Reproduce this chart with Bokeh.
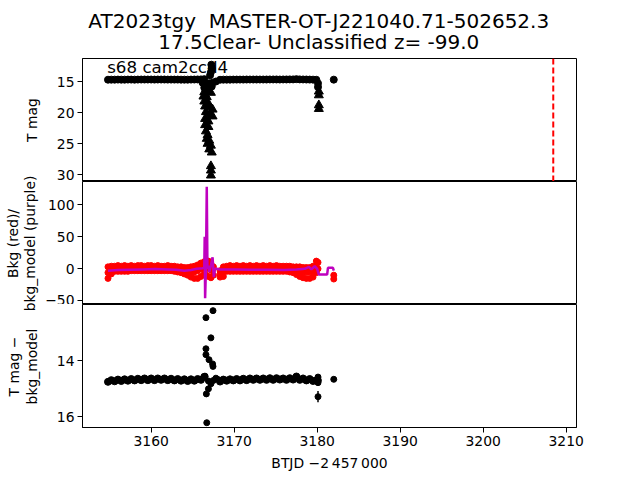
import math
from bokeh.plotting import figure
from bokeh.models import Range1d, FixedTicker, Span, CustomJSTickFormatter
from bokeh.layouts import column, row
from bokeh.embed import file_html
from bokeh.resources import INLINE
from bokeh.core.properties import value

FONT = "DejaVu Sans"

# ---------------- data ----------------
title_lines = ["AT2023tgy\u00a0\u00a0MASTER-OT-J221040.71-502652.3",
               "17.5Clear- Unclassified z= -99.0"]
sector_label = "s68 cam2ccd4"
label_x = 3154.7
label_y = 12.6
event_btjd = 3208.44

x_ticks = [3160, 3170, 3180, 3190, 3200, 3210]
mag_ticks = [15, 20, 25, 30]
bkg_ticks = [-50, 0, 50, 100]
diff_ticks = [14, 16]

# y-axis titles (one entry per text line)
ylabel_text = ["T mag", "Bkg (red)/", "bkg_model (purple)", "T mag \u2212", "bkg_model"]
xlabel_text = "BTJD \u22122\u2009457\u2009000"

btjd = [3154.8, 3155.2, 3155.6, 3156.0, 3156.4, 3156.8, 3157.2, 3157.6, 3158.0, 3158.4,
        3158.8, 3159.2, 3159.6, 3160.0, 3160.4, 3160.8, 3161.2, 3161.6, 3162.0, 3162.4,
        3162.8, 3163.2, 3163.6, 3164.0, 3164.4, 3164.8, 3165.2, 3165.6, 3166.0, 3166.4,
        3168.3, 3168.7, 3169.1, 3169.5, 3169.9, 3170.3, 3170.7, 3171.1, 3171.5, 3171.9,
        3172.3, 3172.7, 3173.1, 3173.5, 3173.9, 3174.3, 3174.7, 3175.1, 3175.5, 3175.9,
        3176.3, 3176.7, 3177.1, 3177.5, 3177.9, 3178.3, 3178.7, 3179.1, 3179.5, 3179.9]

tmag = [14.71, 14.70, 14.70, 14.69, 14.70, 14.70, 14.69, 14.69, 14.70, 14.69,
        14.68, 14.68, 14.68, 14.68, 14.69, 14.68, 14.68, 14.68, 14.69, 14.69,
        14.69, 14.69, 14.70, 14.70, 14.70, 14.69, 14.68, 14.67, 14.66, 14.62,
        14.72, 14.70, 14.70, 14.70, 14.69, 14.69, 14.69, 14.69, 14.68, 14.68,
        14.68, 14.68, 14.68, 14.68, 14.68, 14.67, 14.67, 14.67, 14.68, 14.67,
        14.67, 14.66, 14.66, 14.62, 14.66, 14.67, 14.68, 14.69, 14.70, 14.72]

# extra detections (circles) around the flare and end of sector
tmag_extra_t = [3167.25, 3167.3, 3167.2, 3167.1, 3166.2, 3166.6, 3167.0, 3167.4, 3167.8,
                3166.4, 3166.9, 3167.3, 3180.1, 3180.1, 3182.0]
tmag_extra = [12.3, 12.9, 13.5, 14.0, 15.2, 15.5, 15.3, 15.2, 15.0,
              16.0, 15.9, 15.8, 15.3, 15.9, 14.7]

# upper limits (triangles)
lim_t = [3166.4, 3166.8, 3167.2, 3166.3, 3166.7, 3166.4, 3166.8, 3166.5, 3167.0, 3167.4,
         3166.6, 3167.1, 3167.4, 3166.5, 3166.9, 3166.5, 3166.9, 3166.6, 3166.8, 3166.7,
         3167.0, 3166.8, 3167.2, 3167.0, 3167.3, 3167.2, 3167.2, 3167.2,
         3180.2, 3180.2, 3180.2, 3180.2]
lim_mag = [16.7, 16.6, 16.8, 17.4, 17.5, 18.2, 18.3, 19.0, 19.1, 19.5,
           19.9, 20.2, 20.6, 21.0, 21.4, 22.0, 22.3, 23.0, 23.6, 24.2,
           24.5, 25.0, 25.3, 25.9, 26.4, 28.6, 29.3, 30.1,
           16.6, 17.2, 18.8, 19.4]

bkg_hi = [3, 4, 4, 5, 4, 5, 4, 5, 4, 5, 5, 4, 5, 5, 4, 5, 4, 4, 5, 4,
          4, 3, 3, 2, 2, 3, 4, 6, 9, 11,
          -3, 3, 4, 5, 4, 5, 4, 5, 4, 5, 4, 5, 4, 5, 4, 5, 4, 5, 4, 4,
          4, 4, 3, 3, 3, 2, 2, 2, 4, 12]
bkg_mid = [-6, -2, 0, 0, 0, 0, 0, 0, 1, 1, 1, 1, 1, 1, 1, 0, 0, 0, 0, 0,
           0, -1, -1, -3, -4, -5, -5, -3, 0, 2,
           -8, -4, 0, 0, 0, 0, 0, 0, 0, 0, 0, 0, 0, 0, 0, 0, 0, 0, 0, 0,
           0, -1, -2, -3, -4, -5, -5, -5, -4, 3]
bkg_lo = [-15, -8, -4, -4, -4, -4, -4, -3, -3, -3, -3, -3, -3, -3, -3, -3, -3, -3, -3, -3,
          -4, -5, -6, -8, -10, -13, -15, -15, -12, -8,
          -13, -12, -4, -4, -4, -4, -4, -4, -4, -4, -4, -4, -4, -4, -4, -4, -4, -4, -4, -4,
          -4, -5, -6, -9, -12, -14, -15, -15, -13, -6]
bkg_extra_t = [3166.6, 3166.6, 3166.6, 3166.9, 3166.9, 3166.9, 3167.2, 3167.2, 3167.2,
               3167.5, 3167.5, 3180.1, 3180.1, 3182.0, 3182.0]
bkg_extra = [10, 0, -10, 12, 2, -12, 8, -2, -14, 3, -10, 10, 0, -10, -16]

model_t = [3154.8, 3156.0, 3157.5, 3159.0, 3160.5, 3162.0, 3163.0, 3164.0, 3164.8, 3165.5,
           3166.2, 3166.4, 3166.45, 3166.5, 3166.6, 3166.7, 3166.78, 3166.9, 3167.0, 3167.2,
           3167.4, 3167.55, 3167.7, 3167.9, 3168.3, 3170.0, 3172.0, 3174.0, 3176.0, 3177.5,
           3178.5, 3179.0, 3179.3, 3179.7, 3180.0, 3180.2, 3181.2, 3181.3, 3181.9, 3182.0]
model = [-3, -2, -1.5, -1, -0.5, -1, -1.5, -3, -2, 0,
         1, 2, 50, -46, 0, 128, 0, 5, -5, 5,
         18, -13, 0, 0, -1, -1, -1.5, -1.5, -2, -1,
         0, 3, -1, 4, 0, -9, -9, 1.5, 1.5, -3]

diff = [14.75, 14.69, 14.73, 14.67, 14.72, 14.66, 14.71, 14.65, 14.70, 14.64,
        14.69, 14.63, 14.69, 14.63, 14.69, 14.63, 14.68, 14.63, 14.69, 14.64,
        14.70, 14.65, 14.71, 14.66, 14.72, 14.66, 14.71, 14.65, 14.68, 14.57,
        14.74, 14.67, 14.71, 14.66, 14.70, 14.65, 14.70, 14.64, 14.69, 14.63,
        14.68, 14.63, 14.68, 14.63, 14.68, 14.62, 14.68, 14.62, 14.67, 14.63,
        14.68, 14.62, 14.67, 14.56, 14.68, 14.63, 14.70, 14.65, 14.72, 14.70]
diff_extra_t = [3166.6, 3167.45, 3167.2, 3166.6, 3166.6, 3166.97, 3167.4, 3167.45, 3166.9,
                3166.65, 3166.7, 3166.5, 3166.9, 3167.2, 3167.5, 3167.8, 3168.0,
                3180.1, 3180.1, 3180.15]
diff_extra = [12.46, 12.21, 13.18, 13.57, 13.78, 13.96, 14.11, 14.2, 15.0,
              15.18, 16.21, 14.55, 14.72, 14.82, 14.7, 14.62, 14.66,
              14.58, 14.78, 14.7]
err_t = [3180.1, 3182.0]
err_mag = [15.28, 14.66]
err_size = [0.2, 0.08]

# ---------------- layout geometry ----------------
LABEL_W = 42
MAIN_W = 640 - LABEL_W
FRAME_LEFT = 80 - LABEL_W
FRAME_RIGHT = 64
TITLE_H = 58

x_range = Range1d(3151.73, 3211.24)
minus_fmt = CustomJSTickFormatter(code="return tick < 0 ? '\u2212' + Math.abs(tick) : String(tick);")


def make_fig(height, bottom, y_range, show_x):
    p = figure(width=MAIN_W, height=height, x_range=x_range, y_range=y_range,
               output_backend="svg", toolbar_location=None,
               min_border_left=FRAME_LEFT, min_border_right=FRAME_RIGHT,
               min_border_top=0, min_border_bottom=bottom,
               x_axis_location="below" if show_x else None)
    p.grid.visible = False
    p.outline_line_color = "black"
    p.outline_line_alpha = 1.0
    p.outline_line_width = 1
    p.background_fill_color = "white"
    p.border_fill_color = "white"
    for ax in p.axis:
        ax.major_tick_out = 5
        ax.major_tick_in = 0
        ax.minor_tick_out = 0
        ax.minor_tick_in = 0
        ax.axis_line_color = "black"
        ax.major_tick_line_color = "black"
        ax.major_label_text_font = FONT
        ax.major_label_text_font_size = "13.9px"
        ax.major_label_text_color = "black"
        ax.major_label_standoff = 3
        ax.axis_label_text_font = FONT
        ax.axis_label_text_font_size = "13.9px"
        ax.axis_label_text_font_style = "normal"
        ax.axis_label_text_color = "black"
        ax.axis_label_standoff = 6
    return p


def strip(width, height, x0, x1):
    s = figure(width=width, height=height, x_range=Range1d(x0, x1), y_range=Range1d(height, 0),
               output_backend="svg", toolbar_location=None, min_border=0,
               x_axis_location=None, y_axis_location=None)
    s.grid.visible = False
    s.outline_line_color = None
    s.border_fill_color = "white"
    s.background_fill_color = "white"
    return s


# title strip above the panels (two centred lines, like the reference)
pt = strip(MAIN_W, TITLE_H, LABEL_W, 640)
pt.text(x=[328, 328], y=[20.9, 41.2], text=title_lines, text_font=value(FONT),
        text_font_size="20px", text_align="center", text_baseline="middle", text_color="black")

p1 = make_fig(123, 0, Range1d(31.08, 11.3), False)
p1.yaxis.ticker = FixedTicker(ticks=mag_ticks)
p1.text(x=[label_x], y=[label_y], text=[sector_label], text_font=value(FONT),
        text_font_size="16.7px", text_baseline="middle", text_align="left", text_color="black")
p1.scatter(btjd, tmag, size=7, color="black")
p1.scatter(tmag_extra_t, tmag_extra, size=7, color="black")
p1.scatter(lim_t, lim_mag, marker="triangle", size=9, color="black")
p1.add_layout(Span(location=event_btjd, dimension="height", line_color="red",
                   line_width=2, line_dash="6 3"))

p2 = make_fig(123, 0, Range1d(-55.8, 136.4), False)
p2.yaxis.ticker = FixedTicker(ticks=bkg_ticks)
p2.yaxis.formatter = minus_fmt
p2.scatter(btjd, bkg_hi, size=6, color="red")
p2.scatter(btjd, bkg_mid, size=6, color="red")
p2.scatter(btjd, bkg_lo, size=6, color="red")
p2.scatter(bkg_extra_t, bkg_extra, size=6, color="red")
p2.line(model_t, model, line_color="#bf00bf", line_width=2.5)

p3 = make_fig(176, 53, Range1d(16.38, 11.99), True)
p3.yaxis.ticker = FixedTicker(ticks=diff_ticks)
p3.xaxis.ticker = FixedTicker(ticks=x_ticks)
p3.xaxis.axis_label = xlabel_text
p3.segment(x0=err_t, y0=[m - e for m, e in zip(err_mag, err_size)],
           x1=err_t, y1=[m + e for m, e in zip(err_mag, err_size)],
           line_color="black", line_width=1.5)
p3.scatter(btjd, diff, size=7, color="black")
p3.scatter(diff_extra_t, diff_extra, size=6, color="black")
p3.scatter(err_t, err_mag, size=6, color="black")

# narrow strip on the left that holds the y-axis titles (they overflow the panel heights)
pl = strip(LABEL_W, 480, 0, LABEL_W)
pl.text(x=[31, 12.5, 29, 13, 31], y=[119.5, 243, 243, 366, 366], text=ylabel_text,
        angle=math.pi / 2, text_font=value(FONT), text_font_size="13.9px",
        text_align="center", text_baseline="middle", text_color="black")

layout = row(pl, column(pt, p1, p2, p3, spacing=0), spacing=0)
open("out.html", "w").write(file_html(layout, INLINE))
